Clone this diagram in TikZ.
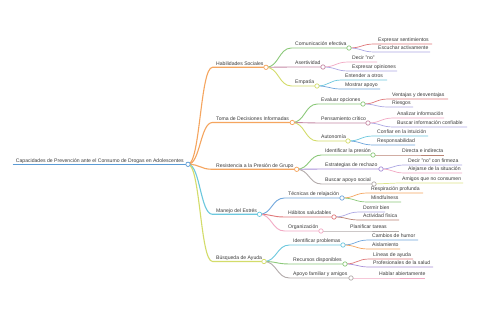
\documentclass[tikz,border=0pt]{standalone}
\usepackage{fontspec}
\setmainfont{Liberation Sans}
\usetikzlibrary{calc}
\definecolor{cText}{HTML}{3A3A3A}
\definecolor{cBlue}{HTML}{5B9BD5}
\definecolor{cOrange}{HTML}{F5A55F}
\definecolor{cCyan}{HTML}{6CC8DE}
\definecolor{cYellow}{HTML}{D3DC6A}
\definecolor{cGreen}{HTML}{8CC97A}
\definecolor{cMauve}{HTML}{C68AA5}
\definecolor{cPurple}{HTML}{A88FD8}
\definecolor{cGrey}{HTML}{B3ABAB}
\definecolor{cRed}{HTML}{E0787A}
\definecolor{cPink}{HTML}{F2A9C4}
\definecolor{cLav}{HTML}{ADA8E4}
\definecolor{cDBlue}{HTML}{6FA6DC}
\definecolor{cBrown}{HTML}{B98272}
\definecolor{cLYel}{HTML}{DDE58A}
\tikzset{
  mmtext/.style={font=\fontsize{5.1}{6}\selectfont, text=cText, inner sep=0pt, anchor=base west},
  mmdot/.style={circle, draw=#1, fill=white, inner sep=0pt, minimum size=4.4pt, line width=0.7pt},
  lzero/.style={line width=1.3pt},
  lone/.style={line width=1.1pt},
  ltwo/.style={line width=0.9pt},
  lthree/.style={line width=0.7pt}
}
% #1 name, #2 parent, #3 text x, #4 line y, #5 end x, #6 colour, #7 width style, #8 text
\newcommand\mmnode[8]{%
  \coordinate (#1-s) at ({#3-3.5},#4);
  \coordinate (#1-e) at (#5,#4);
  \node[mmtext] (#1) at ({#3},{#4-2}) {#8};
  \draw[draw=#6,#7] let \p1=(#2-e), \p2=(#1-s) in
    (#2-e) .. controls ({(\x1+\x2)/2},\y1) and ({(\x1+\x2)/2},\y2) .. (#1-s) -- (#1-e);
}
\begin{document}
\begin{tikzpicture}[x=1pt,y=-1pt]
\useasboundingbox[fill=white] (0,0) rectangle (480,320);
% root
\coordinate (root-s) at (12.5,164.3);
\coordinate (root-e) at (188,164.3);
\node[mmtext] (root) at (15.7,162.3) {Capacidades de Prevención ante el Consumo de Drogas en Adolescentes};
\draw[cBlue,lzero] (root-s) -- (root-e);
% level 1
\mmnode{hs}{root}{216}{67.3}{266}{cOrange}{lone}{Habilidades Sociales}
\mmnode{tdi}{root}{216}{122.5}{292.3}{cOrange}{lone}{Toma de Decisiones Informadas}
\mmnode{rpg}{root}{216}{169.3}{296.7}{cOrange}{lone}{Resistencia a la Presión de Grupo}
\mmnode{me}{root}{216}{214.3}{259.5}{cCyan}{lone}{Manejo del Estrés}
\mmnode{ba}{root}{216}{261.5}{264}{cYellow}{lone}{Búsqueda de Ayuda}
% level 2
\mmnode{ce}{hs}{295}{48}{349}{cGreen}{ltwo}{Comunicación efectiva}
\mmnode{as}{hs}{295}{67}{323}{cMauve}{ltwo}{Asertividad}
\mmnode{em}{hs}{295}{86}{317}{cYellow}{ltwo}{Empatía}
\mmnode{eo}{tdi}{321}{104}{363}{cGreen}{ltwo}{Evaluar opciones}
\mmnode{pc}{tdi}{321}{123}{368}{cMauve}{ltwo}{Pensamiento crítico}
\mmnode{au}{tdi}{321}{141}{348}{cYellow}{ltwo}{Autonomía}
\mmnode{ip}{rpg}{325}{155}{373}{cGreen}{ltwo}{Identificar la presión}
\mmnode{er}{rpg}{325}{169}{381}{cPurple}{ltwo}{Estrategias de rechazo}
\mmnode{bs}{rpg}{325}{184}{374}{cGrey}{ltwo}{Buscar apoyo social}
\mmnode{tr}{me}{288}{198}{342}{cDBlue}{ltwo}{Técnicas de relajación}
\mmnode{hb}{me}{288}{217}{334}{cRed}{ltwo}{Hábitos saludables}
\mmnode{or}{me}{288}{231}{321}{cPink}{ltwo}{Organización}
\mmnode{ipr}{ba}{293}{245}{343}{cCyan}{ltwo}{Identificar problemas}
\mmnode{rd}{ba}{293}{264}{345}{cGreen}{ltwo}{Recursos disponibles}
\mmnode{af}{ba}{293}{278}{351}{cGrey}{ltwo}{Apoyo familiar y amigos}
% level 3
\mmnode{ces}{ce}{378}{44}{432}{cRed}{lthree}{Expresar sentimientos}
\mmnode{cea}{ce}{378}{52}{430}{cLav}{lthree}{Escuchar activamente}
\mmnode{asd}{as}{352}{62}{377}{cPink}{lthree}{Decir "no"}
\mmnode{ase}{as}{352}{71}{397}{cLav}{lthree}{Expresar opiniones}
\mmnode{eme}{em}{345}{80}{387}{cCyan}{lthree}{Entender a otros}
\mmnode{emm}{em}{345}{89}{380}{cDBlue}{lthree}{Mostrar apoyo}
\mmnode{eov}{eo}{392}{99}{448}{cRed}{lthree}{Ventajas y desventajas}
\mmnode{eor}{eo}{392}{107}{413}{cLav}{lthree}{Riesgos}
\mmnode{pca}{pc}{397}{118}{444}{cPink}{lthree}{Analizar información}
\mmnode{pcb}{pc}{397}{127}{467}{cLav}{lthree}{Buscar información confiable}
\mmnode{auc}{au}{377}{136}{428}{cCyan}{lthree}{Confiar en la intuición}
\mmnode{aur}{au}{377}{145}{415}{cDBlue}{lthree}{Responsabilidad}
\mmnode{ipd}{ip}{402}{155}{444}{cBrown}{lthree}{Directa e indirecta}
\mmnode{erd}{er}{408}{165}{462}{cLav}{lthree}{Decir "no" con firmeza}
\mmnode{era}{er}{408}{173}{462}{cPink}{lthree}{Alejarse de la situación}
\mmnode{bsa}{bs}{402}{183}{463}{cLYel}{lthree}{Amigos que no consumen}
\mmnode{trr}{tr}{371}{193}{423}{cOrange}{lthree}{Respiración profunda}
\mmnode{trm}{tr}{371}{202}{401}{cGreen}{lthree}{Mindfulness}
\mmnode{hbd}{hb}{363}{212}{385}{cLav}{lthree}{Dormir bien}
\mmnode{hba}{hb}{363}{220}{399}{cBrown}{lthree}{Actividad física}
\mmnode{orp}{or}{350}{231}{399}{cGrey}{lthree}{Planificar tareas}
\mmnode{iprc}{ipr}{372}{240}{418}{cDBlue}{lthree}{Cambios de humor}
\mmnode{ipra}{ipr}{372}{249}{400}{cOrange}{lthree}{Aislamiento}
\mmnode{rdl}{rd}{373}{259}{413}{cRed}{lthree}{Líneas de ayuda}
\mmnode{rdp}{rd}{373}{267}{433}{cPurple}{lthree}{Profesionales de la salud}
\mmnode{afh}{af}{379}{278}{425}{cPink}{lthree}{Hablar abiertamente}
% circles
\foreach \n/\c in {root/cBlue,hs/cOrange,tdi/cOrange,rpg/cOrange,me/cCyan,ba/cYellow,
  ce/cGreen,as/cMauve,em/cYellow,eo/cGreen,pc/cMauve,au/cYellow,ip/cGreen,er/cPurple,bs/cGrey,
  tr/cDBlue,hb/cRed,or/cPink,ipr/cCyan,rd/cGreen,af/cGrey}
  \node[mmdot=\c] (\n-c) at (\n-e) {};
\end{tikzpicture}
\end{document}
